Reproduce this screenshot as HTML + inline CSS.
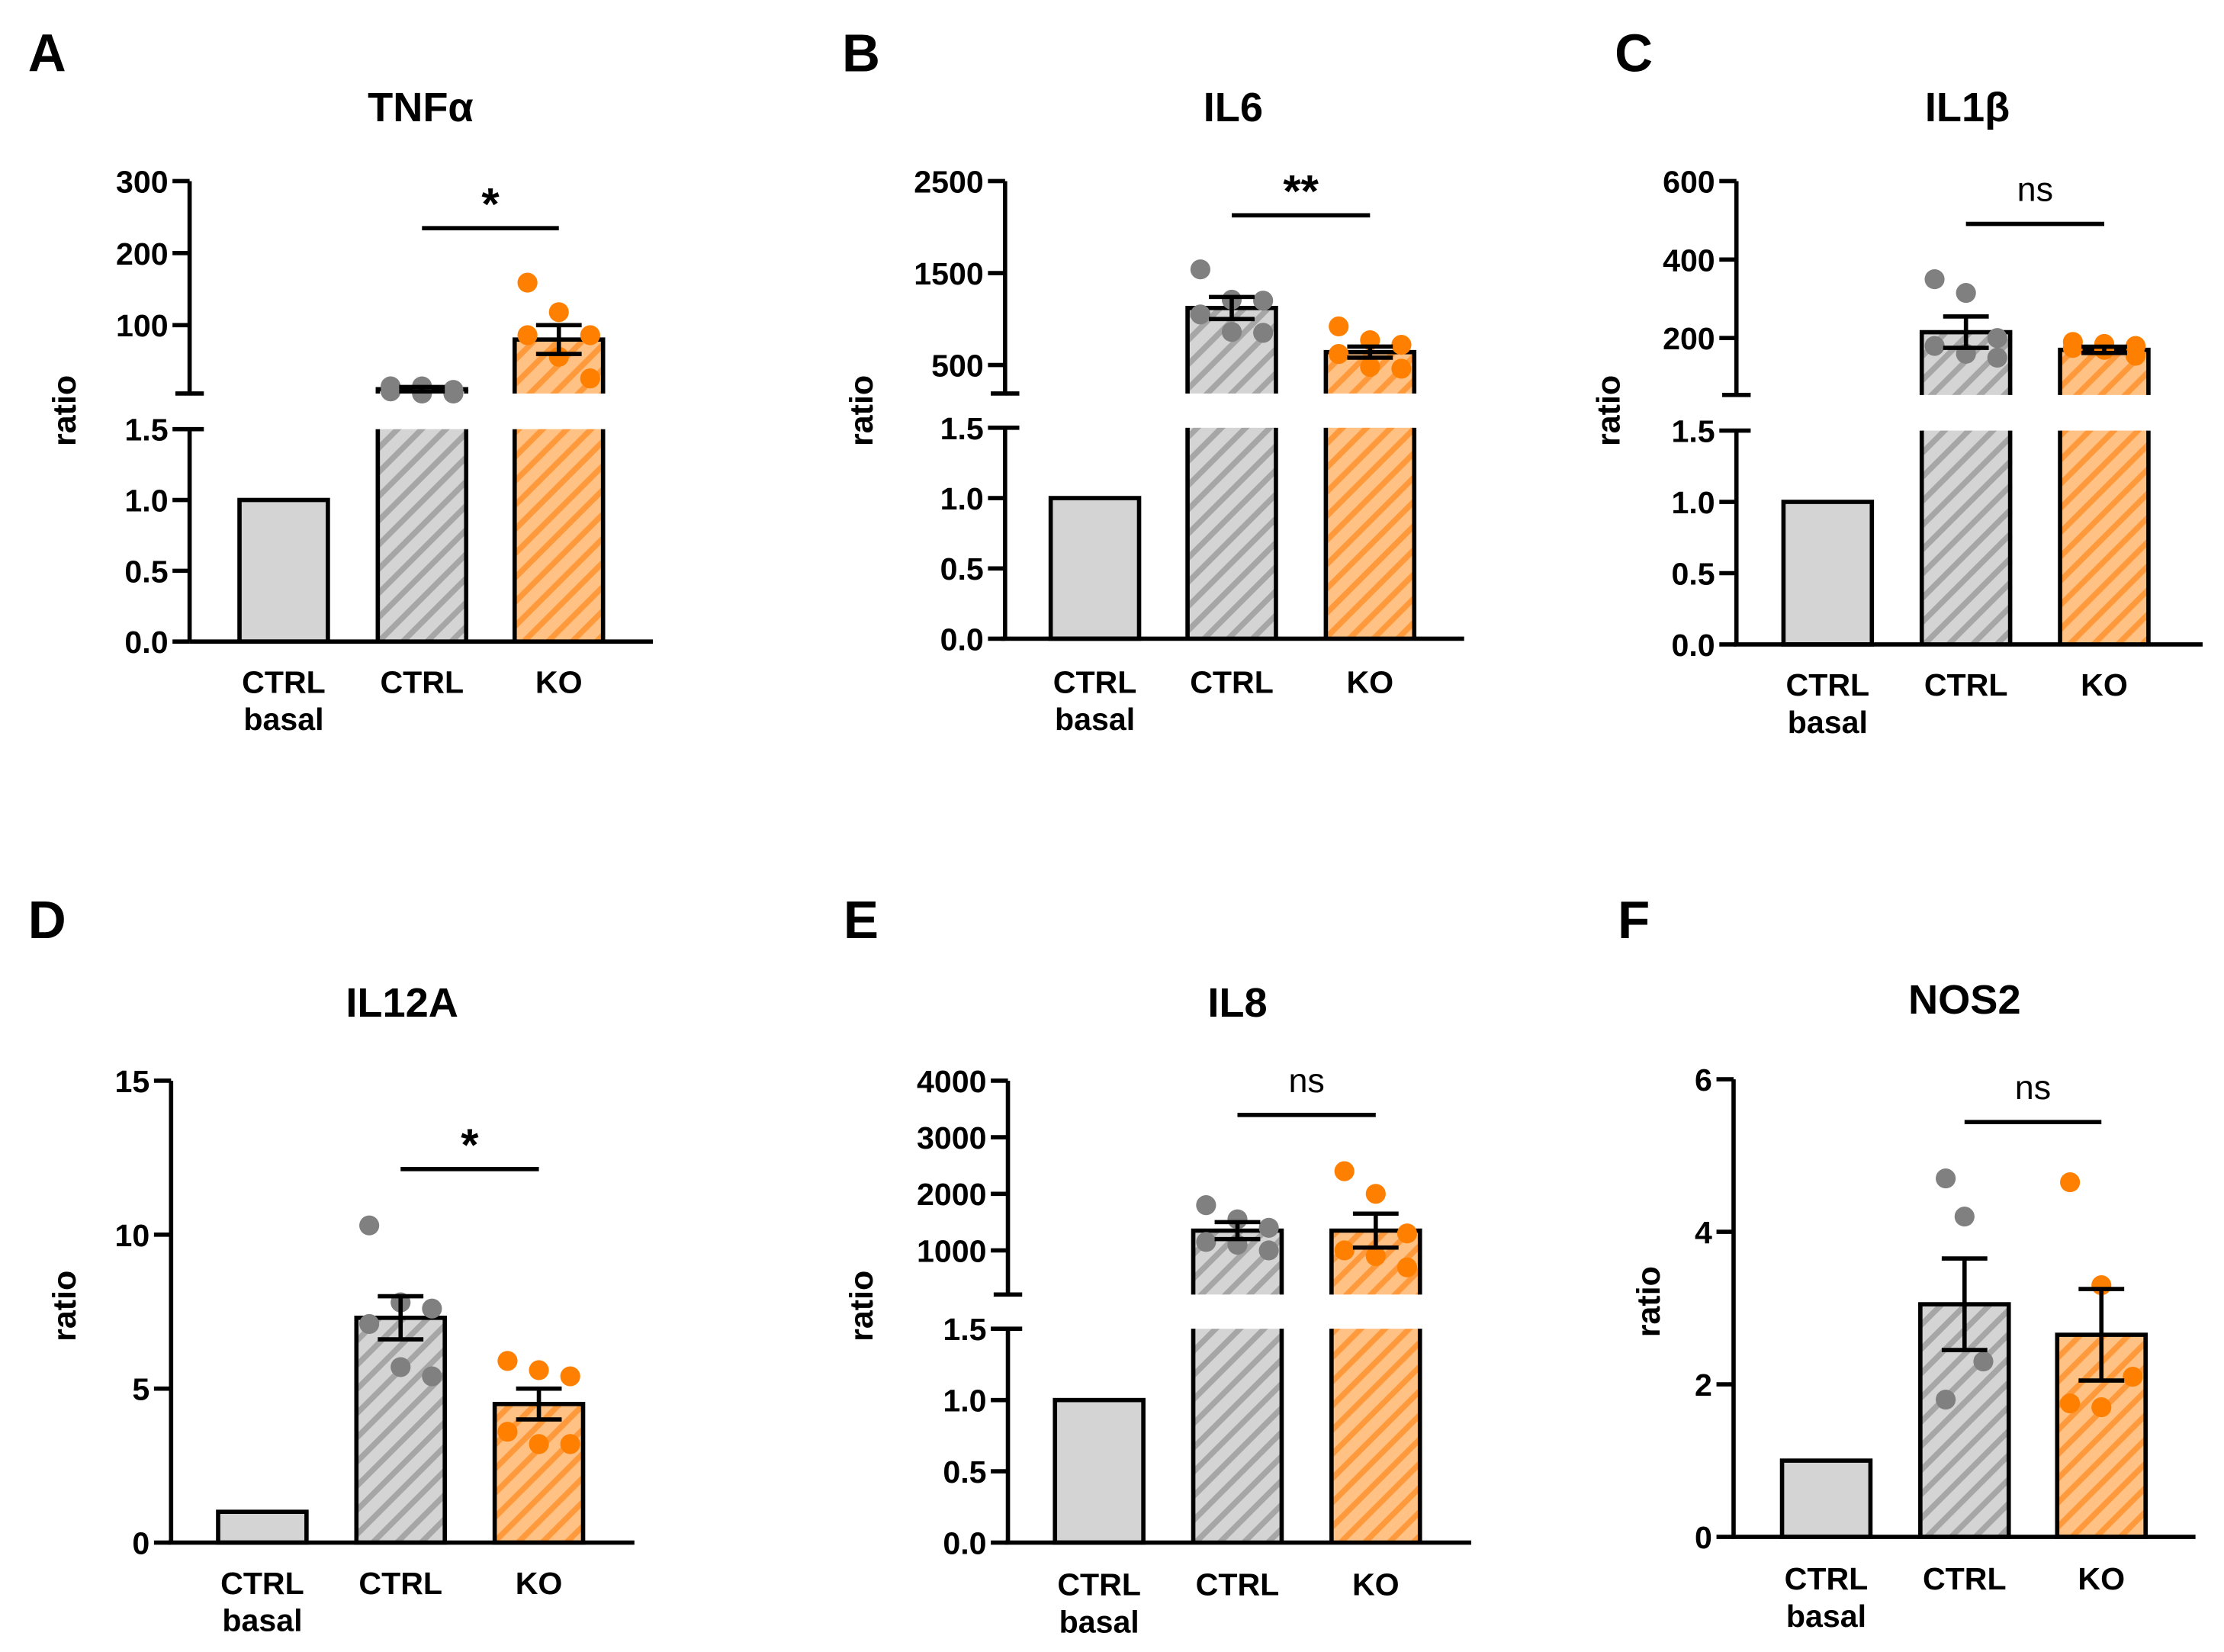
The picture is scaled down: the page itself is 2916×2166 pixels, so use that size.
<!DOCTYPE html>
<html><head><meta charset="utf-8"><style>
html,body{margin:0;padding:0;background:#fff;}
svg{display:block;font-family:"Liberation Sans",sans-serif;}
text{font-weight:bold;fill:#000;}
</style></head><body>
<svg id="fig" width="2916" height="2166" viewBox="0 0 1560 1158.7" xmlns="http://www.w3.org/2000/svg">
<defs>
<pattern id="hg" patternUnits="userSpaceOnUse" width="12" height="12" patternTransform="rotate(45)">
<rect width="12" height="12" fill="#d4d4d4"/><rect width="4" height="12" fill="#a6a6a6"/></pattern>
<pattern id="ho" patternUnits="userSpaceOnUse" width="12" height="12" patternTransform="rotate(45)">
<rect width="12" height="12" fill="#ffc184"/><rect width="4" height="12" fill="#ff9a3c"/></pattern>
</defs>
</svg>
<script>
// ---- data ----
const categories = [["CTRL","basal"],["CTRL"],["KO"]];
const titles = ["TNFα","IL6","IL1β","IL12A","IL8","NOS2"];
const letters = ["A","B","C","D","E","F"];
const sigLabels = ["*","**","ns","*","ns","ns"];
const basalValue = 1.0;
const ctrlMeans = [11, 1120, 215, 7.3, 1350, 3.05];
const ctrlSem = [3, 120, 40, 0.7, 150, 0.6];
const koMeans = [80, 640, 170, 4.5, 1350, 2.65];
const koSem = [20, 60, 8, 0.5, 300, 0.6];
const ctrlPoints = [[8,15,5,15,5,10],[1540,1210,1200,1050,860,850],[350,315,200,180,160,150],[10.3,7.8,7.6,7.1,5.7,5.4],[1800,1550,1400,1150,1100,1000],[4.7,4.2,2.3,1.8]];
const koPoints = [[159,118,86,86,56,26],[920,770,720,620,480,460],[190,185,180,175,170,155],[5.9,5.6,5.4,3.6,3.2,3.2],[2400,2000,1300,1000,900,700],[4.65,3.3,2.1,1.75,1.7]];
const lowerTicks = ["0.0","0.5","1.0","1.5"];
const upperTicks = [[100,200,300],[500,1500,2500],[200,400,600],[0,5,10,15],[1000,2000,3000,4000],[0,2,4,6]];
const upperRange = [[5,300],[190,2500],[55,600],[0,15],[220,4000],[0,6]];

// ---- layout (not data) ----
const L = [
 {ax:133,x0:[168,265,361],end:458,y0:450,yL:301,ut:127,ub:276,brk:true,title:[295,75],let:[33,38],xl:478,sig:160,rt:[45,288]},
 {ax:705,x0:[737,833,930],end:1027,y0:448,yL:300,ut:127,ub:276,brk:true,title:[865,75],let:[604,38],xl:478,sig:151,rt:[604,288]},
 {ax:1218,x0:[1251,1348,1445],end:1545,y0:452,yL:302,ut:127,ub:277,brk:true,title:[1380,75],let:[1146,38],xl:480,sig:157,rt:[1128,288]},
 {ax:120,x0:[153,250,347],end:445,y0:1082,ut:758,brk:false,title:[282,703],let:[33,646],xl:1110,sig:820,rt:[45,916]},
 {ax:707,x0:[740,837,934],end:1032,y0:1082,yL:932,ut:758,ub:908,brk:true,title:[868,703],let:[604,646],xl:1111,sig:782,rt:[604,916]},
 {ax:1216,x0:[1250,1347,1443],end:1540,y0:1078,ut:757,brk:false,title:[1378,701],let:[1146,646],xl:1107,sig:787,rt:[1156,913]}
];
const BW=62, NS="http://www.w3.org/2000/svg";
const svg=document.getElementById('fig');
function mk(tag,attrs,parent,txt){const e=document.createElementNS(NS,tag);for(const k in attrs)e.setAttribute(k,attrs[k]);if(txt!==undefined)e.textContent=txt;(parent||svg).appendChild(e);return e;}

for(let p=0;p<6;p++){
 const c=L[p];
 const g=mk('g',{});
 
 
 const [umin,umax]=upperRange[p];
 const ub=c.brk?c.ub:c.y0;
 const yU=v=>ub-(v-umin)/(umax-umin)*(ub-c.ut);
 const yLo=v=>c.y0-v/1.5*(c.y0-c.yL);
 const yAny=v=>(c.brk&&v<=1.5)?yLo(v):yU(v);
 let t=mk('text',{x:c.let[0],y:c.let[1]+12,'font-size':37,'text-anchor':'middle'},g,letters[p]);
 
 t=mk('text',{x:c.title[0],y:c.title[1]+10,'font-size':29,'text-anchor':'middle'},g,titles[p]);
 
 t=mk('text',{x:c.rt[0],y:c.rt[1],'font-size':23,'text-anchor':'middle',transform:`rotate(-90 ${c.rt[0]} ${c.rt[1]})`,dy:8},g,'ratio');
 
 const vals=[basalValue,ctrlMeans[p],koMeans[p]];
 const fills=['#d4d4d4','url(#hg)','url(#ho)'];
 vals.forEach((v,i)=>{
  const x=c.x0[i];
  if(c.brk&&v>1.5){
   let r=mk('rect',{x:x,y:c.yL,width:BW,height:c.y0-c.yL,fill:fills[i]},g);
   
   mk('path',{d:`M${x} ${c.yL}V${c.y0}M${x+BW} ${c.yL}V${c.y0}`,stroke:'#000','stroke-width':3,fill:'none'},g);
   const top=yU(v);
   r=mk('rect',{x:x,y:top,width:BW,height:ub-top,fill:fills[i]},g);
   
   mk('path',{d:`M${x} ${ub}V${top}H${x+BW}V${ub}`,stroke:'#000','stroke-width':3,fill:'none'},g);
  } else {
   const top=yAny(v);
   const r=mk('rect',{x:x,y:top,width:BW,height:c.y0-top,fill:fills[i],stroke:'#000','stroke-width':3},g);
   
  }
 });
 [[ctrlPoints[p],1,'#808080'],[koPoints[p],2,'#ff8000']].forEach(([pts,i,col])=>{
  const cx=c.x0[i]+BW/2;const n=pts.length;
  pts.forEach((v,k)=>{
   const off=n>1?((k%3)-1)*22*(n>4?1:0.6):0;
   const d=mk('circle',{cx:cx+off,cy:yAny(v),r:7,fill:col},g);
   
  });
 });
 [[ctrlMeans[p],ctrlSem[p],1],[koMeans[p],koSem[p],2]].forEach(([m,s,i])=>{
  const cx=c.x0[i]+BW/2;const a=yAny(m+s),b=yAny(m-s);
  const e=mk('path',{d:`M${cx} ${a}V${b}M${cx-16} ${a}H${cx+16}M${cx-16} ${b}H${cx+16}`,stroke:'#000','stroke-width':3,fill:'none'},g);
  
 });
 const ax=c.ax;
 let a=mk('path',{d:`M${c.x0[0]-35} ${c.y0}H${c.end}`,stroke:'#000','stroke-width':3},g);
 
 if(c.brk){
  a=mk('path',{d:`M${ax} ${c.y0}V${c.yL}M${ax} ${ub}V${c.ut}M${ax-10} ${ub}H${ax+10}`,stroke:'#000','stroke-width':3,fill:'none'},g);
  lowerTicks.forEach(tk=>{const y=yLo(parseFloat(tk));
   mk('path',{d:`M${ax-12} ${y}H${ax}`+(tk==="1.5"?`H${ax+10}`:''),stroke:'#000','stroke-width':3},g);
   const tt=mk('text',{x:ax-15,y:y+8,'font-size':22,'text-anchor':'end'},g,tk);
   });
 } else {
  a=mk('path',{d:`M${ax} ${c.y0}V${c.ut}`,stroke:'#000','stroke-width':3,fill:'none'},g);
 }
 
 upperTicks[p].forEach(tk=>{const y=yU(tk);
  mk('path',{d:`M${ax-12} ${y}H${ax}`,stroke:'#000','stroke-width':3},g);
  const tt=mk('text',{x:ax-15,y:y+8,'font-size':22,'text-anchor':'end'},g,String(tk));
  });
 categories.forEach((lab,i)=>{const cx=c.x0[i]+BW/2;
  lab.forEach((s,k)=>{const tt=mk('text',{x:cx,y:c.xl+8+k*26,'font-size':22,'text-anchor':'middle'},g,s);
   });});
 const s1=c.x0[1]+BW/2,s2=c.x0[2]+BW/2;
 const sl=mk('path',{d:`M${s1} ${c.sig}H${s2}`,stroke:'#000','stroke-width':3},g);
 
 const ns=sigLabels[p]==='ns';
 const st=mk('text',{x:(s1+s2)/2,y:ns?c.sig-16:c.sig-6,'font-size':ns?24:32,'text-anchor':'middle',style:ns?'font-weight:normal':''},g,sigLabels[p]);
 
}
</script>
</body></html>
